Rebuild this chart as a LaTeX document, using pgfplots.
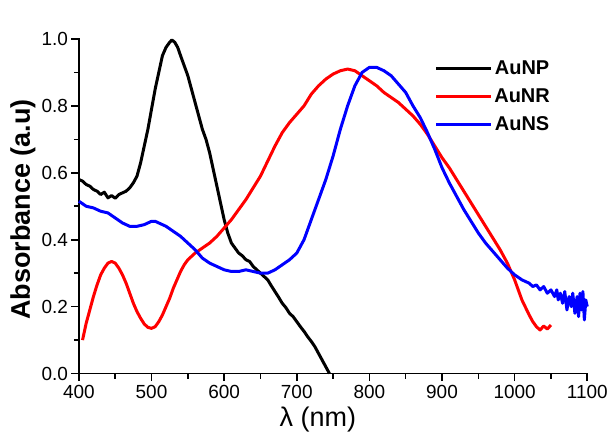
\documentclass[border=0pt]{standalone}
\usepackage{fontspec}
\setmainfont{Liberation Sans}
\usepackage{pgfplots}
\pgfplotsset{compat=1.18}

\begin{document}
\begin{tikzpicture}
\path (0pt,0pt) rectangle (611pt,434pt);
\begin{axis}[
  at={(79pt,60pt)}, anchor=south west,
  scale only axis, width=509pt, height=335pt,
  xmin=400, xmax=1100, ymin=0, ymax=1.0,
  clip=false,
  axis line style={draw=none},
  xtick pos=bottom, ytick pos=left,
  xtick={400,500,...,1100},
  ytick={0,0.2,...,1.0},
  minor x tick num=1, minor y tick num=1,
  tick align=outside,
  tickwidth=7.5pt, subtickwidth=5pt,
  major tick style={draw=black, line width=1.7pt},
  minor tick style={draw=black, line width=1.5pt},
  yticklabel style={/pgf/number format/fixed, /pgf/number format/fixed zerofill, /pgf/number format/precision=1},
  /pgf/number format/1000 sep={},
  /pgf/number format/assume math mode=true,
  tick label style={font=\fontsize{19}{22}\selectfont},
  xticklabel style={yshift=-1pt},
  xlabel={λ (nm)},
  ylabel={\bfseries Absorbance (a.u)},
  xlabel style={at={(axis description cs:0.47,-0.136)}, anchor=center, font=\fontsize{27}{32}\selectfont},
  ylabel style={at={(axis description cs:-0.110,0.49)}, anchor=center, font=\fontsize{27}{32}\selectfont},
  legend style={draw=none, fill=none, at={(axis description cs:0.694,0.947)}, anchor=north west,
    font=\bfseries\fontsize{20}{22}\selectfont, row sep=8pt,
    nodes={inner sep=1.5pt, text height=14pt, text depth=3pt}},
  legend image code/.code={\draw[#1, line width=3pt] (0pt,0pt) -- (55pt,0pt);},
  every axis plot/.append style={line width=3pt, line join=round},
]
\draw[line width=1.8pt, line cap=rect] (rel axis cs:1,0) -- (rel axis cs:0,0) -- (rel axis cs:0,1);
\addplot[black] coordinates {
(400,0.58) (405,0.575) (410,0.565) (415,0.56) (420,0.55) (425,0.545) (430,0.535)
(435,0.542) (440,0.525) (445,0.532) (450,0.524) (455,0.535) (460,0.54) (465,0.545)
(470,0.555) (475,0.57) (480,0.59) (485,0.63) (490,0.68) (495,0.73) (500,0.79)
(505,0.85) (510,0.90) (515,0.95) (520,0.975) (525,0.99) (528,0.997) (532,0.99)
(536,0.975) (540,0.95) (545,0.92) (550,0.89) (555,0.85) (560,0.81) (565,0.77)
(570,0.73) (575,0.70) (580,0.66) (585,0.61) (590,0.56) (595,0.51) (600,0.46)
(605,0.42) (610,0.39) (615,0.375) (620,0.36) (625,0.352) (630,0.34) (635,0.335)
(640,0.32) (645,0.31) (650,0.30) (655,0.29) (660,0.28) (665,0.262) (670,0.245)
(675,0.228) (680,0.21) (685,0.197) (690,0.18) (695,0.17) (700,0.155) (705,0.14)
(710,0.126) (715,0.11) (720,0.096) (725,0.08) (730,0.06) (735,0.04) (740,0.02) (745,0.0)
};
\addlegendentry{AuNP}
\addplot[red] coordinates {
(405,0.10) (410,0.15) (415,0.19) (420,0.23) (425,0.265) (430,0.295) (435,0.315)
(440,0.33) (445,0.335) (450,0.33) (455,0.315) (460,0.295) (465,0.27) (470,0.24)
(475,0.21) (480,0.185) (485,0.165) (490,0.148) (495,0.138) (500,0.135) (505,0.14)
(510,0.155) (515,0.175) (520,0.20) (525,0.225) (530,0.255) (535,0.28) (540,0.305)
(545,0.325) (550,0.34) (555,0.35) (560,0.36) (570,0.375) (580,0.39) (590,0.41)
(600,0.435) (610,0.46) (620,0.49) (630,0.52) (640,0.555) (650,0.59) (660,0.635)
(670,0.68) (680,0.72) (690,0.75) (700,0.775) (710,0.80) (720,0.835) (730,0.86)
(740,0.88) (750,0.895) (760,0.905) (770,0.91) (780,0.905) (790,0.89) (800,0.875)
(810,0.86) (820,0.84) (830,0.825) (840,0.81) (850,0.79) (860,0.77) (870,0.745)
(880,0.715) (890,0.68) (900,0.645) (910,0.615) (920,0.58) (930,0.545) (940,0.51)
(950,0.475) (960,0.44) (970,0.405) (980,0.37) (990,0.33) (1000,0.28) (1010,0.22)
(1020,0.175) (1025,0.155) (1030,0.14) (1035,0.13) (1040,0.142) (1045,0.133) (1050,0.145)
};
\addlegendentry{AuNR}
\addplot[blue] coordinates {
(400,0.515) (410,0.50) (420,0.495) (430,0.485) (440,0.48) (450,0.465) (460,0.45)
(470,0.44) (480,0.44) (490,0.445) (500,0.455) (505,0.455) (510,0.45) (520,0.44)
(530,0.425) (540,0.41) (550,0.39) (560,0.37) (570,0.345) (580,0.33) (590,0.32)
(600,0.31) (610,0.305) (620,0.305) (630,0.31) (640,0.305) (650,0.30) (660,0.30)
(670,0.31) (680,0.325) (690,0.34) (700,0.36) (710,0.40) (720,0.46) (730,0.52)
(740,0.58) (750,0.65) (760,0.73) (770,0.80) (780,0.86) (790,0.90) (800,0.915)
(810,0.915) (820,0.905) (830,0.89) (840,0.865) (850,0.84) (860,0.80) (870,0.765)
(880,0.72) (890,0.67) (900,0.615) (910,0.57) (920,0.53) (930,0.49) (940,0.455)
(950,0.42) (960,0.39) (970,0.365) (980,0.34) (990,0.315) (1000,0.295) (1010,0.28)
(1020,0.27) (1025,0.26) (1030,0.265) (1035,0.25) (1040,0.26) (1045,0.24) (1050,0.25)
(1055,0.23) (1058,0.25) (1060,0.22) (1063,0.24) (1066,0.21) (1069,0.245) (1072,0.19)
(1075,0.23) (1078,0.20) (1080,0.24) (1083,0.18) (1086,0.23) (1088,0.17) (1090,0.24)
(1092,0.19) (1094,0.245) (1096,0.16) (1098,0.22) (1100,0.20)
};
\addlegendentry{AuNS}
\end{axis}
\end{tikzpicture}
\end{document}
